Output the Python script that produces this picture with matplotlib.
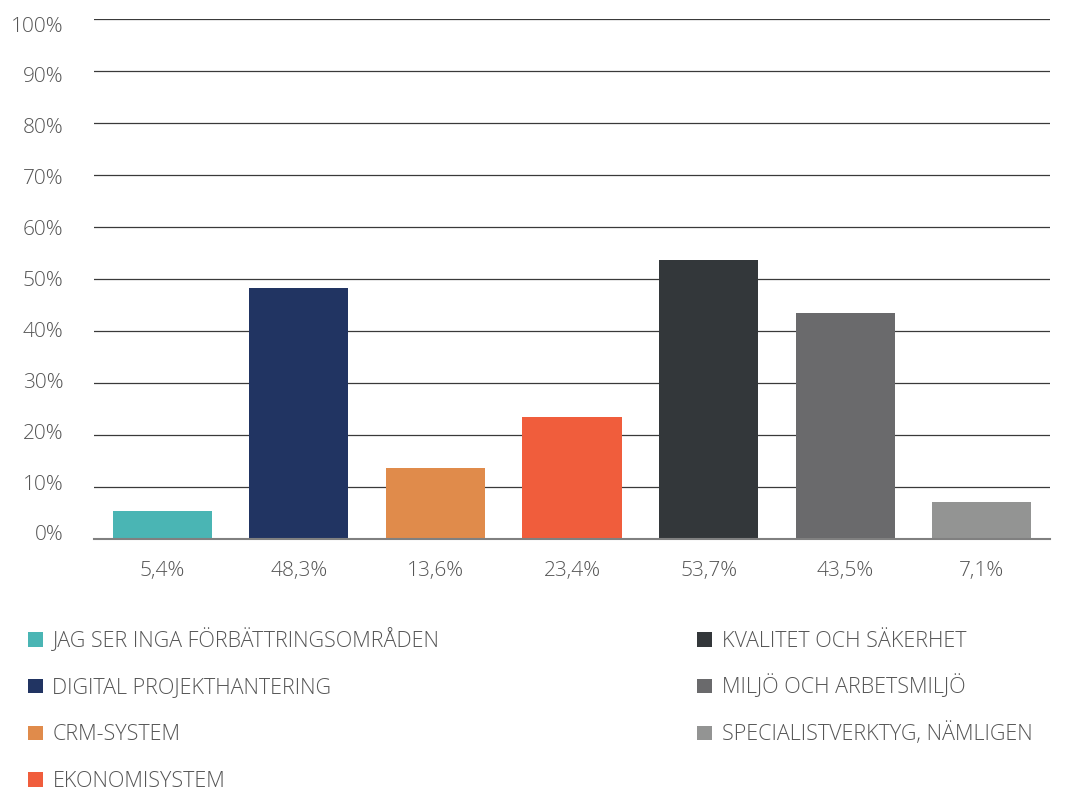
import matplotlib
matplotlib.use("Agg")
import matplotlib.pyplot as plt
from matplotlib.patches import Rectangle

categories = ["JAG SER INGA FÖRBÄTTRINGSOMRÅDEN", "DIGITAL PROJEKTHANTERING", "CRM-SYSTEM",
              "EKONOMISYSTEM", "KVALITET OCH SÄKERHET", "MILJÖ OCH ARBETSMILJÖ",
              "SPECIALISTVERKTYG, NÄMLIGEN"]
values = [5.4, 48.3, 13.6, 23.4, 53.7, 43.5, 7.1]
value_labels = ["5,4%", "48,3%", "13,6%", "23,4%", "53,7%", "43,5%", "7,1%"]
colors = ["#4ab5b4", "#213462", "#e08b4b", "#f05d3c", "#33373a", "#6a6a6c", "#939493"]
yticks = [0, 10, 20, 30, 40, 50, 60, 70, 80, 90, 100]
ytick_labels = [f"{t}%" for t in yticks]

plt.rcParams['font.family'] = ['Open Sans', 'DejaVu Sans']
W, H = 1091, 790
fig = plt.figure(figsize=(W/100, H/100), dpi=100)
rect = [94/W, 1-539/H, (1050-94)/W, (539-19)/H]
ax = fig.add_axes(rect)

x = list(range(len(values)))
ax.bar(x, values, width=0.725, color=colors, zorder=3)
ax.set_xlim(-0.5, len(values)-0.5)
ax.set_ylim(0, 100)
ax.set_yticks(yticks)
ax.set_yticklabels([])
ax.set_xticks(x)
ax.set_xticklabels(value_labels)
ax.yaxis.grid(True, color="#3a3a3a", linewidth=0.9, zorder=0)
ax.set_axisbelow(True)
for s in ["top", "right", "left"]:
    ax.spines[s].set_visible(False)
ax.spines["bottom"].set_color("#808080")
ax.spines["bottom"].set_linewidth(1.5)
ax.spines["bottom"].set_zorder(4)
ax.tick_params(axis="both", length=0, colors="#555555", labelsize=15)
ax.tick_params(axis="x", pad=15.5)
for lab in ax.get_xticklabels():
    lab.set_fontweight("light")

# y tick labels are laid out slightly inside the gridline span in the original
ax_lab = fig.add_axes(rect, frameon=False)
ax_lab.patch.set_visible(False)
ax_lab.set_xticks([])
ax_lab.set_ylim(-6/5.09, 100 + 5/5.09)
ax_lab.set_yticks(yticks)
ax_lab.set_yticklabels(ytick_labels)
ax_lab.tick_params(axis="y", length=0, colors="#555555", labelsize=15, pad=22)
for lab in ax_lab.get_yticklabels():
    lab.set_fontweight("light")

# legend: two columns, 4 + 3 entries
col_x = [28, 697]
row_step = 46.7
base0 = 646.7
sq = 14.5
for i, (cat, col) in enumerate(zip(categories, colors)):
    c = 0 if i < 4 else 1
    r = i if i < 4 else i - 4
    base = base0 + r * row_step
    x0 = col_x[c]
    fig.patches.append(Rectangle((x0/W, 1-base/H), sq/W, sq/H, transform=fig.transFigure,
                                 facecolor=col, edgecolor="none"))
    fig.text((x0 + sq + 10)/W, 1-base/H, cat, ha="left", va="baseline",
             fontsize=15.5, fontweight="light", color="#555555")

fig.savefig("out.png", dpi=100)
